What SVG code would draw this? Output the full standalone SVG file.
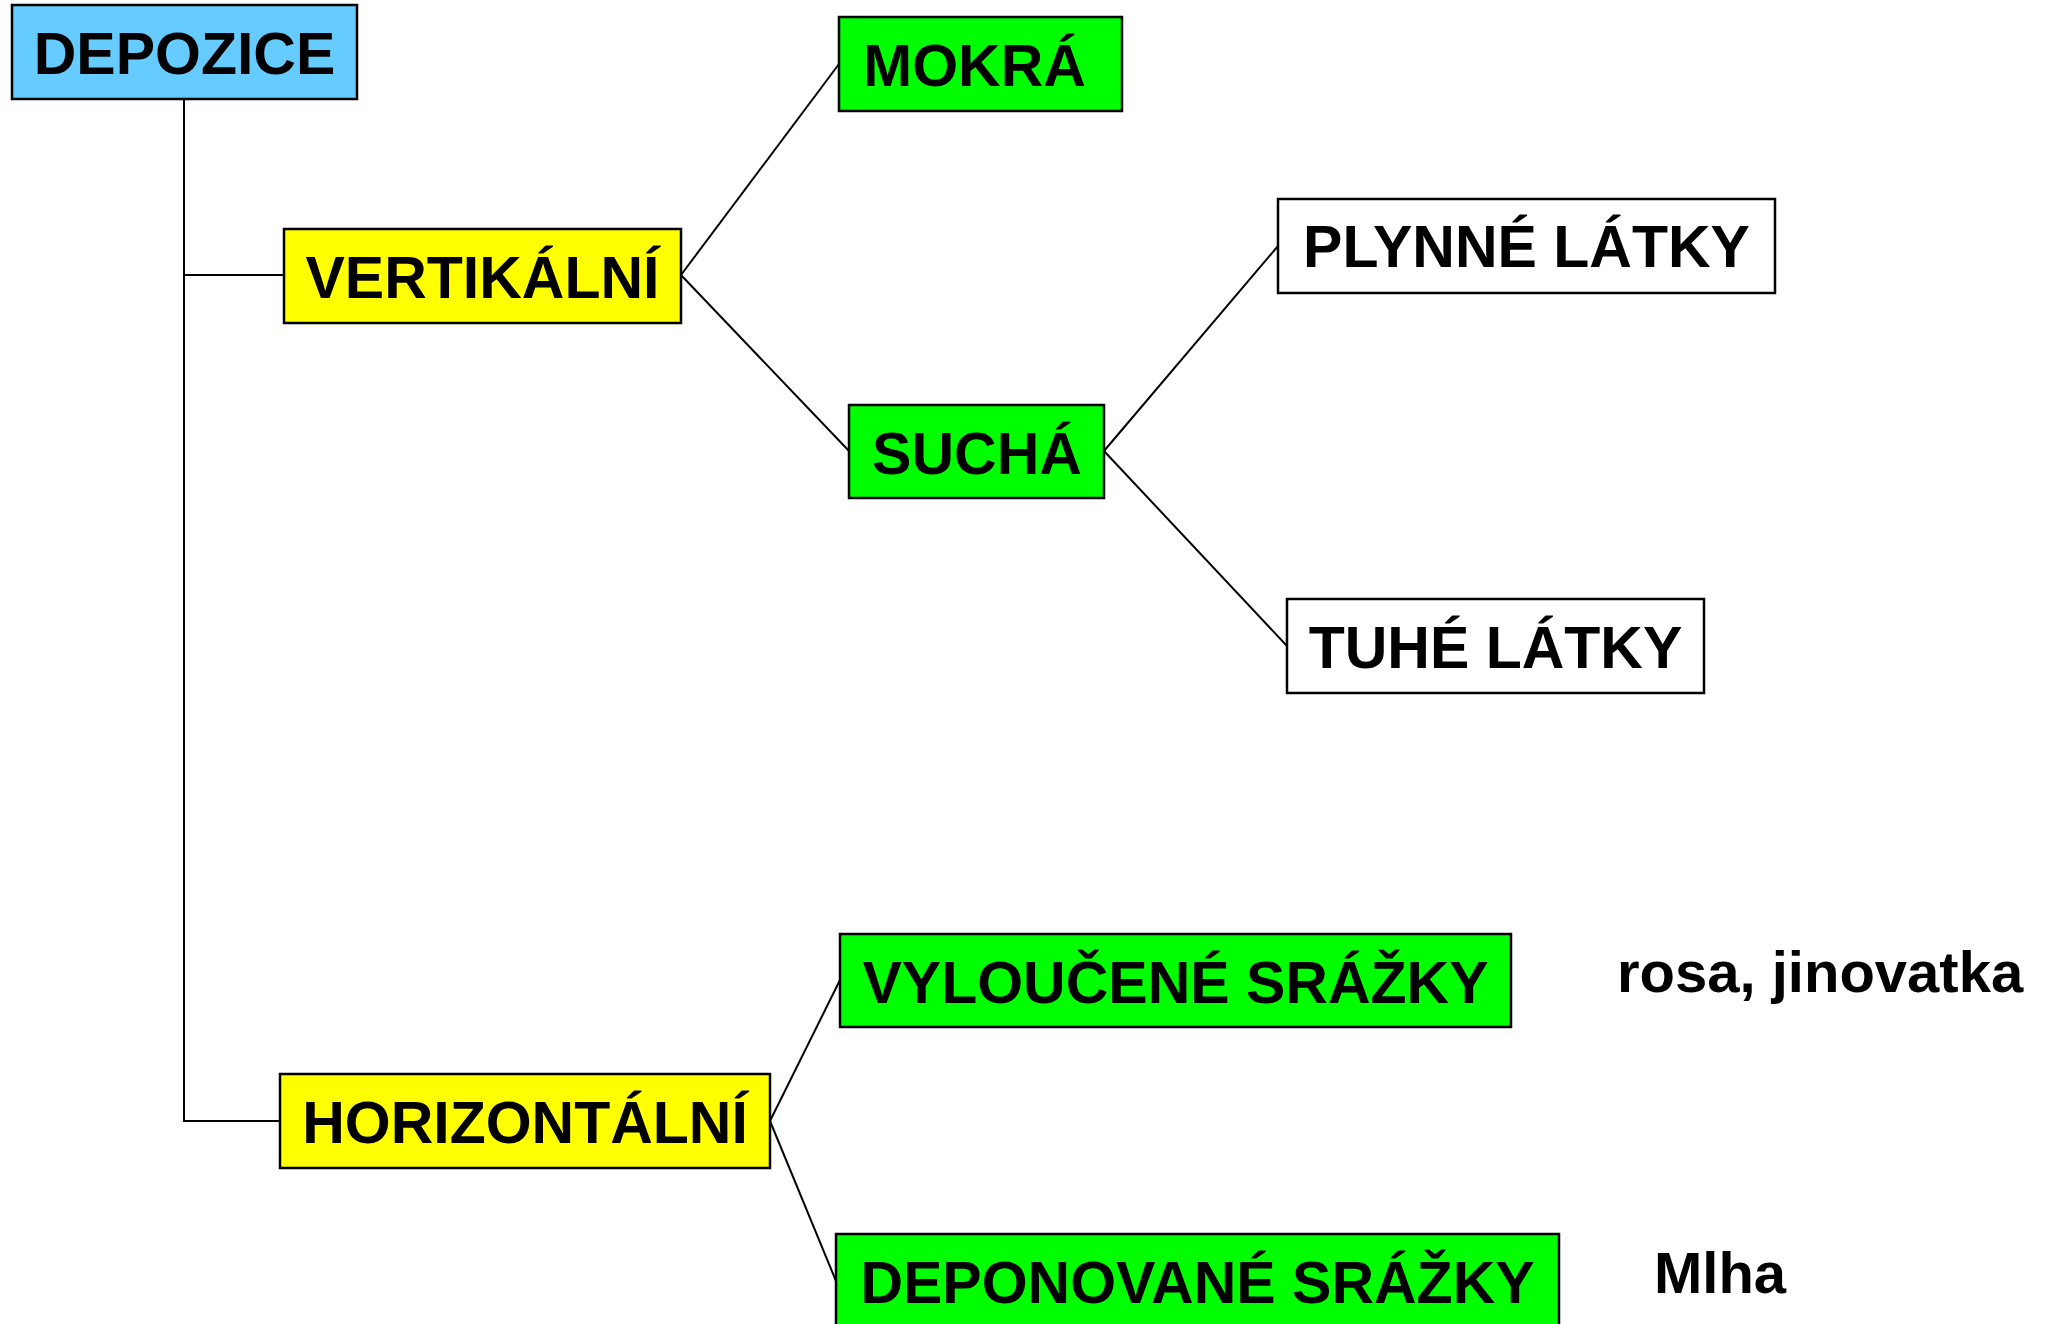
<svg xmlns="http://www.w3.org/2000/svg" width="2049" height="1324" viewBox="0 0 2049 1324">
<style>
.box{stroke:#000;stroke-width:2.5}
.blue{fill:#66CCFF}
.yel{fill:#FFFF00}
.grn{fill:#00FF00}
.wht{fill:#FFFFFF}
.t{font-family:"Liberation Sans",Arial,sans-serif;font-weight:bold;font-size:59px;fill:#000}
.n{font-size:58px}
.c{text-anchor:middle}
.conn{stroke:#000;stroke-width:2;fill:none}
</style>
<rect width="2049" height="1324" fill="#fff"/>
<g id="connectors">
<polyline class="conn" points="184,99 184,1121 280,1121"/>
<line class="conn" x1="184" y1="275" x2="284" y2="275"/>
<line class="conn" x1="681" y1="275" x2="839" y2="64"/>
<line class="conn" x1="681" y1="275" x2="849" y2="451"/>
<line class="conn" x1="1104" y1="451" x2="1278" y2="246"/>
<line class="conn" x1="1104" y1="451" x2="1287" y2="646"/>
<line class="conn" x1="770" y1="1121" x2="840" y2="980"/>
<line class="conn" x1="770" y1="1121" x2="836" y2="1281"/>
</g>
<g id="depozice">
<rect class="box blue" x="12" y="5" width="345" height="94"/>
<text class="t c" x="184.5" y="74">DEPOZICE</text>
</g>
<g id="vertikalni">
<rect class="box yel" x="284" y="229" width="397" height="94"/>
<text class="t c" x="482.5" y="298">VERTIKÁLNÍ</text>
</g>
<g id="mokra">
<rect class="box grn" x="839" y="17" width="283" height="94"/>
<text class="t" x="863" y="86">MOKRÁ</text>
</g>
<g id="sucha">
<rect class="box grn" x="849" y="405" width="255" height="93"/>
<text class="t c" x="977" y="474">SUCHÁ</text>
</g>
<g id="plynne">
<rect class="box wht" x="1278" y="199" width="497" height="94"/>
<text class="t c" x="1526.5" y="267">PLYNNÉ LÁTKY</text>
</g>
<g id="tuhe">
<rect class="box wht" x="1287" y="599" width="417" height="94"/>
<text class="t c" x="1495.5" y="668">TUHÉ LÁTKY</text>
</g>
<g id="horizontalni">
<rect class="box yel" x="280" y="1074" width="490" height="94"/>
<text class="t c" x="525" y="1143">HORIZONTÁLNÍ</text>
</g>
<g id="vyloucene">
<rect class="box grn" x="840" y="934" width="671" height="93"/>
<text class="t c" x="1175.5" y="1003">VYLOUČENÉ SRÁŽKY</text>
</g>
<g id="deponovane">
<rect class="box grn" x="836" y="1234" width="723" height="94"/>
<text class="t c" x="1197.5" y="1303">DEPONOVANÉ SRÁŽKY</text>
</g>
<g id="rosa">
<text class="t n" x="1617" y="992">rosa, jinovatka</text>
</g>
<g id="mlha">
<text class="t n" x="1654" y="1293">Mlha</text>
</g>
</svg>
